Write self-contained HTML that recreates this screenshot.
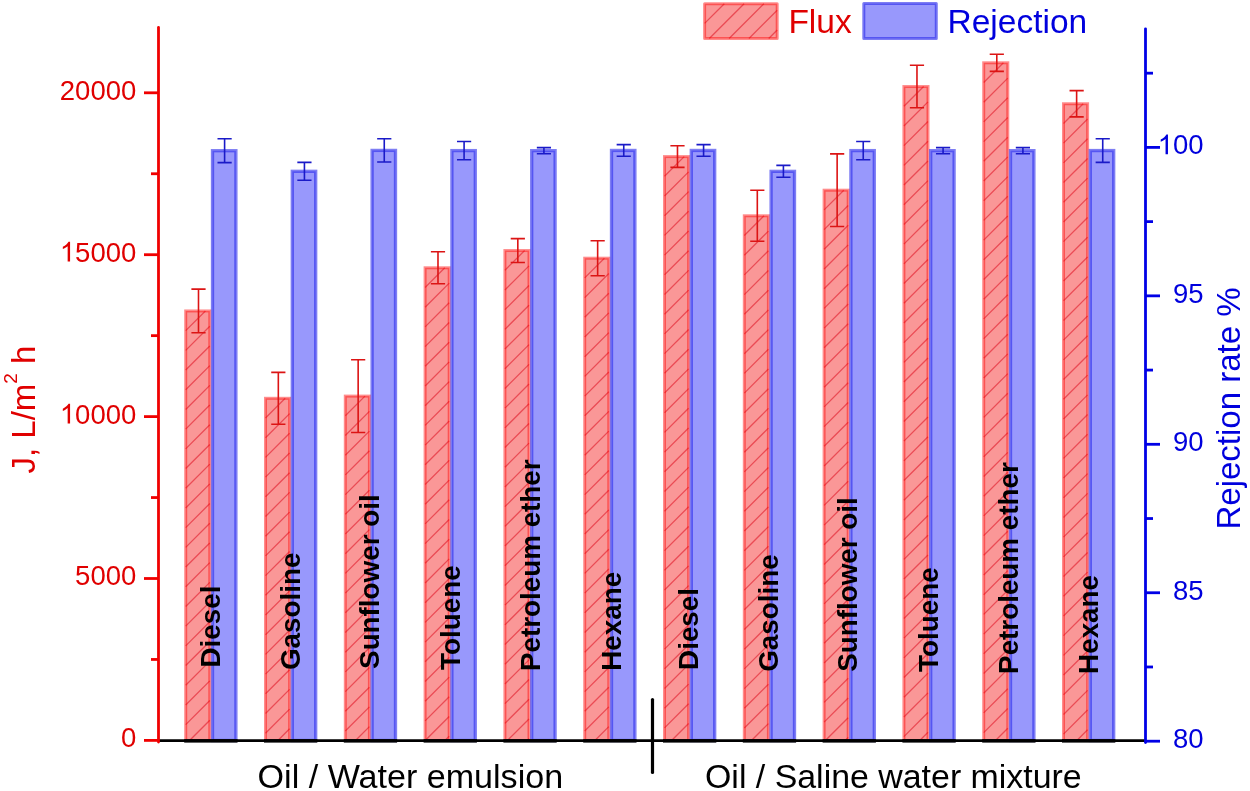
<!DOCTYPE html><html><head><meta charset="utf-8"><style>html,body{margin:0;padding:0;background:#fff;}svg{display:block;will-change:transform;}text{font-family:"Liberation Sans",sans-serif;}</style></head><body>
<svg width="1250" height="791" viewBox="0 0 1250 791">
<rect width="1250" height="791" fill="#fff"/>
<defs>
</defs>
<rect x="185.70" y="310.95" width="24.1" height="429.55" fill="#FA9797"/>
<path d="M185.7 330.65L205.4 310.95M185.7 350.35L209.8 326.25M185.7 370.05L209.8 345.95M185.7 389.75L209.8 365.65M185.7 409.45L209.8 385.35M185.7 429.15L209.8 405.05M185.7 448.85L209.8 424.75M185.7 468.55L209.8 444.45M185.7 488.25L209.8 464.15M185.7 507.95L209.8 483.85M185.7 527.65L209.8 503.55M185.7 547.35L209.8 523.25M185.7 567.05L209.8 542.95M185.7 586.75L209.8 562.65M185.7 606.45L209.8 582.35M185.7 626.15L209.8 602.05M185.7 645.85L209.8 621.75M185.7 665.55L209.8 641.45M185.7 685.25L209.8 661.15M185.7 704.95L209.8 680.85M185.7 724.65L209.8 700.55M189.55 740.5L209.8 720.25M209.25 740.5L209.8 739.95" stroke="rgba(220,0,20,0.5)" stroke-width="1.3" fill="none"/>
<rect x="185.70" y="310.95" width="24.1" height="429.55" fill="none" stroke="rgba(255,0,0,0.45)" stroke-width="3"/>
<rect x="212.50" y="150.70" width="23.4" height="589.80" fill="#9898FC" stroke="rgba(40,40,235,0.6)" stroke-width="3.3"/>
<rect x="265.50" y="398.30" width="24.1" height="342.20" fill="#FA9797"/>
<path d="M265.5 418.0L285.2 398.3M265.5 437.7L289.6 413.6M265.5 457.4L289.6 433.3M265.5 477.1L289.6 453.0M265.5 496.8L289.6 472.7M265.5 516.5L289.6 492.4M265.5 536.2L289.6 512.1M265.5 555.9L289.6 531.8M265.5 575.6L289.6 551.5M265.5 595.3L289.6 571.2M265.5 615.0L289.6 590.9M265.5 634.7L289.6 610.6M265.5 654.4L289.6 630.3M265.5 674.1L289.6 650.0M265.5 693.8L289.6 669.7M265.5 713.5L289.6 689.4M265.5 733.2L289.6 709.1M277.9 740.5L289.6 728.8" stroke="rgba(220,0,20,0.5)" stroke-width="1.3" fill="none"/>
<rect x="265.50" y="398.30" width="24.1" height="342.20" fill="none" stroke="rgba(255,0,0,0.45)" stroke-width="3"/>
<rect x="292.30" y="171.30" width="23.4" height="569.20" fill="#9898FC" stroke="rgba(40,40,235,0.6)" stroke-width="3.3"/>
<rect x="345.30" y="396.10" width="24.1" height="344.40" fill="#FA9797"/>
<path d="M345.3 415.8L365.0 396.1M345.3 435.5L369.4 411.4M345.3 455.2L369.4 431.1M345.3 474.9L369.4 450.8M345.3 494.6L369.4 470.5M345.3 514.3L369.4 490.2M345.3 534.0L369.4 509.9M345.3 553.7L369.4 529.6M345.3 573.4L369.4 549.3M345.3 593.1L369.4 569.0M345.3 612.8L369.4 588.7M345.3 632.5L369.4 608.4M345.3 652.2L369.4 628.1M345.3 671.9L369.4 647.8M345.3 691.6L369.4 667.5M345.3 711.3L369.4 687.2M345.3 731.0L369.4 706.9M355.5 740.5L369.4 726.6" stroke="rgba(220,0,20,0.5)" stroke-width="1.3" fill="none"/>
<rect x="345.30" y="396.10" width="24.1" height="344.40" fill="none" stroke="rgba(255,0,0,0.45)" stroke-width="3"/>
<rect x="372.10" y="150.40" width="23.4" height="590.10" fill="#9898FC" stroke="rgba(40,40,235,0.6)" stroke-width="3.3"/>
<rect x="425.10" y="267.80" width="24.1" height="472.70" fill="#FA9797"/>
<path d="M425.1 287.5L444.8 267.8M425.1 307.2L449.2 283.1M425.1 326.9L449.2 302.8M425.1 346.6L449.2 322.5M425.1 366.3L449.2 342.2M425.1 386.0L449.2 361.9M425.1 405.7L449.2 381.6M425.1 425.4L449.2 401.3M425.1 445.1L449.2 421.0M425.1 464.8L449.2 440.7M425.1 484.5L449.2 460.4M425.1 504.2L449.2 480.1M425.1 523.9L449.2 499.8M425.1 543.6L449.2 519.5M425.1 563.3L449.2 539.2M425.1 583.0L449.2 558.9M425.1 602.7L449.2 578.6M425.1 622.4L449.2 598.3M425.1 642.1L449.2 618.0M425.1 661.8L449.2 637.7M425.1 681.5L449.2 657.4M425.1 701.2L449.2 677.1M425.1 720.9L449.2 696.8M425.2 740.5L449.2 716.5M444.9 740.5L449.2 736.2" stroke="rgba(220,0,20,0.5)" stroke-width="1.3" fill="none"/>
<rect x="425.10" y="267.80" width="24.1" height="472.70" fill="none" stroke="rgba(255,0,0,0.45)" stroke-width="3"/>
<rect x="451.90" y="150.60" width="23.4" height="589.90" fill="#9898FC" stroke="rgba(40,40,235,0.6)" stroke-width="3.3"/>
<rect x="504.90" y="250.55" width="24.1" height="489.95" fill="#FA9797"/>
<path d="M504.9 270.25L524.6 250.55M504.9 289.95L529.0 265.85M504.9 309.65L529.0 285.55M504.9 329.35L529.0 305.25M504.9 349.05L529.0 324.95M504.9 368.75L529.0 344.65M504.9 388.45L529.0 364.35M504.9 408.15L529.0 384.05M504.9 427.85L529.0 403.75M504.9 447.55L529.0 423.45M504.9 467.25L529.0 443.15M504.9 486.95L529.0 462.85M504.9 506.65L529.0 482.55M504.9 526.35L529.0 502.25M504.9 546.05L529.0 521.95M504.9 565.75L529.0 541.65M504.9 585.45L529.0 561.35M504.9 605.15L529.0 581.05M504.9 624.85L529.0 600.75M504.9 644.55L529.0 620.45M504.9 664.25L529.0 640.15M504.9 683.95L529.0 659.85M504.9 703.65L529.0 679.55M504.9 723.35L529.0 699.25M507.45 740.5L529.0 718.95M527.15 740.5L529.0 738.65" stroke="rgba(220,0,20,0.5)" stroke-width="1.3" fill="none"/>
<rect x="504.90" y="250.55" width="24.1" height="489.95" fill="none" stroke="rgba(255,0,0,0.45)" stroke-width="3"/>
<rect x="531.70" y="150.65" width="23.4" height="589.85" fill="#9898FC" stroke="rgba(40,40,235,0.6)" stroke-width="3.3"/>
<rect x="584.70" y="258.20" width="24.1" height="482.30" fill="#FA9797"/>
<path d="M584.7 277.9L604.4 258.2M584.7 297.6L608.8 273.5M584.7 317.3L608.8 293.2M584.7 337.0L608.8 312.9M584.7 356.7L608.8 332.6M584.7 376.4L608.8 352.3M584.7 396.1L608.8 372.0M584.7 415.8L608.8 391.7M584.7 435.5L608.8 411.4M584.7 455.2L608.8 431.1M584.7 474.9L608.8 450.8M584.7 494.6L608.8 470.5M584.7 514.3L608.8 490.2M584.7 534.0L608.8 509.9M584.7 553.7L608.8 529.6M584.7 573.4L608.8 549.3M584.7 593.1L608.8 569.0M584.7 612.8L608.8 588.7M584.7 632.5L608.8 608.4M584.7 652.2L608.8 628.1M584.7 671.9L608.8 647.8M584.7 691.6L608.8 667.5M584.7 711.3L608.8 687.2M584.7 731.0L608.8 706.9M594.9 740.5L608.8 726.6" stroke="rgba(220,0,20,0.5)" stroke-width="1.3" fill="none"/>
<rect x="584.70" y="258.20" width="24.1" height="482.30" fill="none" stroke="rgba(255,0,0,0.45)" stroke-width="3"/>
<rect x="611.50" y="150.45" width="23.4" height="590.05" fill="#9898FC" stroke="rgba(40,40,235,0.6)" stroke-width="3.3"/>
<rect x="664.50" y="156.60" width="24.1" height="583.90" fill="#FA9797"/>
<path d="M664.5 176.3L684.2 156.6M664.5 196.0L688.6 171.9M664.5 215.7L688.6 191.6M664.5 235.4L688.6 211.3M664.5 255.1L688.6 231.0M664.5 274.8L688.6 250.7M664.5 294.5L688.6 270.4M664.5 314.2L688.6 290.1M664.5 333.9L688.6 309.8M664.5 353.6L688.6 329.5M664.5 373.3L688.6 349.2M664.5 393.0L688.6 368.9M664.5 412.7L688.6 388.6M664.5 432.4L688.6 408.3M664.5 452.1L688.6 428.0M664.5 471.8L688.6 447.7M664.5 491.5L688.6 467.4M664.5 511.2L688.6 487.1M664.5 530.9L688.6 506.8M664.5 550.6L688.6 526.5M664.5 570.3L688.6 546.2M664.5 590.0L688.6 565.9M664.5 609.7L688.6 585.6M664.5 629.4L688.6 605.3M664.5 649.1L688.6 625.0M664.5 668.8L688.6 644.7M664.5 688.5L688.6 664.4M664.5 708.2L688.6 684.1M664.5 727.9L688.6 703.8M671.6 740.5L688.6 723.5" stroke="rgba(220,0,20,0.5)" stroke-width="1.3" fill="none"/>
<rect x="664.50" y="156.60" width="24.1" height="583.90" fill="none" stroke="rgba(255,0,0,0.45)" stroke-width="3"/>
<rect x="691.30" y="150.45" width="23.4" height="590.05" fill="#9898FC" stroke="rgba(40,40,235,0.6)" stroke-width="3.3"/>
<rect x="744.30" y="215.80" width="24.1" height="524.70" fill="#FA9797"/>
<path d="M744.3 235.5L764.0 215.8M744.3 255.2L768.4 231.1M744.3 274.9L768.4 250.8M744.3 294.6L768.4 270.5M744.3 314.3L768.4 290.2M744.3 334.0L768.4 309.9M744.3 353.7L768.4 329.6M744.3 373.4L768.4 349.3M744.3 393.1L768.4 369.0M744.3 412.8L768.4 388.7M744.3 432.5L768.4 408.4M744.3 452.2L768.4 428.1M744.3 471.9L768.4 447.8M744.3 491.6L768.4 467.5M744.3 511.3L768.4 487.2M744.3 531.0L768.4 506.9M744.3 550.7L768.4 526.6M744.3 570.4L768.4 546.3M744.3 590.1L768.4 566.0M744.3 609.8L768.4 585.7M744.3 629.5L768.4 605.4M744.3 649.2L768.4 625.1M744.3 668.9L768.4 644.8M744.3 688.6L768.4 664.5M744.3 708.3L768.4 684.2M744.3 728.0L768.4 703.9M751.5 740.5L768.4 723.6" stroke="rgba(220,0,20,0.5)" stroke-width="1.3" fill="none"/>
<rect x="744.30" y="215.80" width="24.1" height="524.70" fill="none" stroke="rgba(255,0,0,0.45)" stroke-width="3"/>
<rect x="771.10" y="171.35" width="23.4" height="569.15" fill="#9898FC" stroke="rgba(40,40,235,0.6)" stroke-width="3.3"/>
<rect x="824.10" y="190.20" width="24.1" height="550.30" fill="#FA9797"/>
<path d="M824.1 209.9L843.8 190.2M824.1 229.6L848.2 205.5M824.1 249.3L848.2 225.2M824.1 269.0L848.2 244.9M824.1 288.7L848.2 264.6M824.1 308.4L848.2 284.3M824.1 328.1L848.2 304.0M824.1 347.8L848.2 323.7M824.1 367.5L848.2 343.4M824.1 387.2L848.2 363.1M824.1 406.9L848.2 382.8M824.1 426.6L848.2 402.5M824.1 446.3L848.2 422.2M824.1 466.0L848.2 441.9M824.1 485.7L848.2 461.6M824.1 505.4L848.2 481.3M824.1 525.1L848.2 501.0M824.1 544.8L848.2 520.7M824.1 564.5L848.2 540.4M824.1 584.2L848.2 560.1M824.1 603.9L848.2 579.8M824.1 623.6L848.2 599.5M824.1 643.3L848.2 619.2M824.1 663.0L848.2 638.9M824.1 682.7L848.2 658.6M824.1 702.4L848.2 678.3M824.1 722.1L848.2 698.0M825.4 740.5L848.2 717.7M845.1 740.5L848.2 737.4" stroke="rgba(220,0,20,0.5)" stroke-width="1.3" fill="none"/>
<rect x="824.10" y="190.20" width="24.1" height="550.30" fill="none" stroke="rgba(255,0,0,0.45)" stroke-width="3"/>
<rect x="850.90" y="150.60" width="23.4" height="589.90" fill="#9898FC" stroke="rgba(40,40,235,0.6)" stroke-width="3.3"/>
<rect x="903.90" y="86.55" width="24.1" height="653.95" fill="#FA9797"/>
<path d="M903.9 106.25L923.6 86.55M903.9 125.95L928.0 101.85M903.9 145.65L928.0 121.55M903.9 165.35L928.0 141.25M903.9 185.05L928.0 160.95M903.9 204.75L928.0 180.65M903.9 224.45L928.0 200.35M903.9 244.15L928.0 220.05M903.9 263.85L928.0 239.75M903.9 283.55L928.0 259.45M903.9 303.25L928.0 279.15M903.9 322.95L928.0 298.85M903.9 342.65L928.0 318.55M903.9 362.35L928.0 338.25M903.9 382.05L928.0 357.95M903.9 401.75L928.0 377.65M903.9 421.45L928.0 397.35M903.9 441.15L928.0 417.05M903.9 460.85L928.0 436.75M903.9 480.55L928.0 456.45M903.9 500.25L928.0 476.15M903.9 519.95L928.0 495.85M903.9 539.65L928.0 515.55M903.9 559.35L928.0 535.25M903.9 579.05L928.0 554.95M903.9 598.75L928.0 574.65M903.9 618.45L928.0 594.35M903.9 638.15L928.0 614.05M903.9 657.85L928.0 633.75M903.9 677.55L928.0 653.45M903.9 697.25L928.0 673.15M903.9 716.95L928.0 692.85M903.9 736.65L928.0 712.55M919.75 740.5L928.0 732.25" stroke="rgba(220,0,20,0.5)" stroke-width="1.3" fill="none"/>
<rect x="903.90" y="86.55" width="24.1" height="653.95" fill="none" stroke="rgba(255,0,0,0.45)" stroke-width="3"/>
<rect x="930.70" y="150.65" width="23.4" height="589.85" fill="#9898FC" stroke="rgba(40,40,235,0.6)" stroke-width="3.3"/>
<rect x="983.70" y="62.80" width="24.1" height="677.70" fill="#FA9797"/>
<path d="M983.7 82.5L1003.4 62.8M983.7 102.2L1007.8 78.1M983.7 121.9L1007.8 97.8M983.7 141.6L1007.8 117.5M983.7 161.3L1007.8 137.2M983.7 181.0L1007.8 156.9M983.7 200.7L1007.8 176.6M983.7 220.4L1007.8 196.3M983.7 240.1L1007.8 216.0M983.7 259.8L1007.8 235.7M983.7 279.5L1007.8 255.4M983.7 299.2L1007.8 275.1M983.7 318.9L1007.8 294.8M983.7 338.6L1007.8 314.5M983.7 358.3L1007.8 334.2M983.7 378.0L1007.8 353.9M983.7 397.7L1007.8 373.6M983.7 417.4L1007.8 393.3M983.7 437.1L1007.8 413.0M983.7 456.8L1007.8 432.7M983.7 476.5L1007.8 452.4M983.7 496.2L1007.8 472.1M983.7 515.9L1007.8 491.8M983.7 535.6L1007.8 511.5M983.7 555.3L1007.8 531.2M983.7 575.0L1007.8 550.9M983.7 594.7L1007.8 570.6M983.7 614.4L1007.8 590.3M983.7 634.1L1007.8 610.0M983.7 653.8L1007.8 629.7M983.7 673.5L1007.8 649.4M983.7 693.2L1007.8 669.1M983.7 712.9L1007.8 688.8M983.7 732.6L1007.8 708.5M995.5 740.5L1007.8 728.2" stroke="rgba(220,0,20,0.5)" stroke-width="1.3" fill="none"/>
<rect x="983.70" y="62.80" width="24.1" height="677.70" fill="none" stroke="rgba(255,0,0,0.45)" stroke-width="3"/>
<rect x="1010.50" y="150.65" width="23.4" height="589.85" fill="#9898FC" stroke="rgba(40,40,235,0.6)" stroke-width="3.3"/>
<rect x="1063.50" y="103.75" width="24.1" height="636.75" fill="#FA9797"/>
<path d="M1063.5 123.45L1083.2 103.75M1063.5 143.15L1087.6 119.05M1063.5 162.85L1087.6 138.75M1063.5 182.55L1087.6 158.45M1063.5 202.25L1087.6 178.15M1063.5 221.95L1087.6 197.85M1063.5 241.65L1087.6 217.55M1063.5 261.35L1087.6 237.25M1063.5 281.05L1087.6 256.95M1063.5 300.75L1087.6 276.65M1063.5 320.45L1087.6 296.35M1063.5 340.15L1087.6 316.05M1063.5 359.85L1087.6 335.75M1063.5 379.55L1087.6 355.45M1063.5 399.25L1087.6 375.15M1063.5 418.95L1087.6 394.85M1063.5 438.65L1087.6 414.55M1063.5 458.35L1087.6 434.25M1063.5 478.05L1087.6 453.95M1063.5 497.75L1087.6 473.65M1063.5 517.45L1087.6 493.35M1063.5 537.15L1087.6 513.05M1063.5 556.85L1087.6 532.75M1063.5 576.55L1087.6 552.45M1063.5 596.25L1087.6 572.15M1063.5 615.95L1087.6 591.85M1063.5 635.65L1087.6 611.55M1063.5 655.35L1087.6 631.25M1063.5 675.05L1087.6 650.95M1063.5 694.75L1087.6 670.65M1063.5 714.45L1087.6 690.35M1063.5 734.15L1087.6 710.05M1076.85 740.5L1087.6 729.75" stroke="rgba(220,0,20,0.5)" stroke-width="1.3" fill="none"/>
<rect x="1063.50" y="103.75" width="24.1" height="636.75" fill="none" stroke="rgba(255,0,0,0.45)" stroke-width="3"/>
<rect x="1090.30" y="150.55" width="23.4" height="589.95" fill="#9898FC" stroke="rgba(40,40,235,0.6)" stroke-width="3.3"/>
<path d="M198.50 289.1V332.8M191.40 289.1H205.60M191.40 332.8H205.60" stroke="#DC1414" stroke-width="1.6" fill="none"/>
<path d="M224.60 138.8V162.6M217.50 138.8H231.70M217.50 162.6H231.70" stroke="#1A1AC8" stroke-width="1.6" fill="none"/>
<path d="M278.33 372.4V424.2M271.23 372.4H285.43M271.23 424.2H285.43" stroke="#DC1414" stroke-width="1.6" fill="none"/>
<path d="M304.43 162.4V180.2M297.33 162.4H311.53M297.33 180.2H311.53" stroke="#1A1AC8" stroke-width="1.6" fill="none"/>
<path d="M358.16 359.7V432.5M351.06 359.7H365.26M351.06 432.5H365.26" stroke="#DC1414" stroke-width="1.6" fill="none"/>
<path d="M384.26 138.8V162.0M377.16 138.8H391.36M377.16 162.0H391.36" stroke="#1A1AC8" stroke-width="1.6" fill="none"/>
<path d="M437.99 251.8V283.8M430.89 251.8H445.09M430.89 283.8H445.09" stroke="#DC1414" stroke-width="1.6" fill="none"/>
<path d="M464.09 141.5V159.7M456.99 141.5H471.19M456.99 159.7H471.19" stroke="#1A1AC8" stroke-width="1.6" fill="none"/>
<path d="M517.82 238.6V262.5M510.72 238.6H524.92M510.72 262.5H524.92" stroke="#DC1414" stroke-width="1.6" fill="none"/>
<path d="M543.92 147.6V153.7M536.82 147.6H551.02M536.82 153.7H551.02" stroke="#1A1AC8" stroke-width="1.6" fill="none"/>
<path d="M597.65 240.7V275.7M590.55 240.7H604.75M590.55 275.7H604.75" stroke="#DC1414" stroke-width="1.6" fill="none"/>
<path d="M623.75 144.6V156.3M616.65 144.6H630.85M616.65 156.3H630.85" stroke="#1A1AC8" stroke-width="1.6" fill="none"/>
<path d="M677.48 145.8V167.4M670.38 145.8H684.58M670.38 167.4H684.58" stroke="#DC1414" stroke-width="1.6" fill="none"/>
<path d="M703.58 144.6V156.3M696.48 144.6H710.68M696.48 156.3H710.68" stroke="#1A1AC8" stroke-width="1.6" fill="none"/>
<path d="M757.31 190.3V241.3M750.21 190.3H764.41M750.21 241.3H764.41" stroke="#DC1414" stroke-width="1.6" fill="none"/>
<path d="M783.41 165.4V177.3M776.31 165.4H790.51M776.31 177.3H790.51" stroke="#1A1AC8" stroke-width="1.6" fill="none"/>
<path d="M837.14 153.9V226.5M830.04 153.9H844.24M830.04 226.5H844.24" stroke="#DC1414" stroke-width="1.6" fill="none"/>
<path d="M863.24 141.5V159.7M856.14 141.5H870.34M856.14 159.7H870.34" stroke="#1A1AC8" stroke-width="1.6" fill="none"/>
<path d="M916.97 65.3V107.8M909.87 65.3H924.07M909.87 107.8H924.07" stroke="#DC1414" stroke-width="1.6" fill="none"/>
<path d="M943.07 147.6V153.7M935.97 147.6H950.17M935.97 153.7H950.17" stroke="#1A1AC8" stroke-width="1.6" fill="none"/>
<path d="M996.80 54.2V71.4M989.70 54.2H1003.90M989.70 71.4H1003.90" stroke="#DC1414" stroke-width="1.6" fill="none"/>
<path d="M1022.90 147.6V153.7M1015.80 147.6H1030.00M1015.80 153.7H1030.00" stroke="#1A1AC8" stroke-width="1.6" fill="none"/>
<path d="M1076.63 90.6V116.9M1069.53 90.6H1083.73M1069.53 116.9H1083.73" stroke="#DC1414" stroke-width="1.6" fill="none"/>
<path d="M1102.73 138.7V162.4M1095.63 138.7H1109.83M1095.63 162.4H1109.83" stroke="#1A1AC8" stroke-width="1.6" fill="none"/>
<text transform="translate(220.00,667.5) rotate(-90)" font-size="27.8" font-weight="bold" fill="#000">Diesel</text>
<text transform="translate(299.80,670.0) rotate(-90)" font-size="27.8" font-weight="bold" fill="#000">Gasoline</text>
<text transform="translate(378.90,668.9) rotate(-90)" font-size="27.8" font-weight="bold" fill="#000">Sunflower oil</text>
<text transform="translate(460.40,669.9) rotate(-90)" font-size="27.8" font-weight="bold" fill="#000">Toluene</text>
<text transform="translate(539.60,671.0) rotate(-90)" font-size="27.8" font-weight="bold" fill="#000">Petroleum ether</text>
<text transform="translate(620.60,670.7) rotate(-90)" font-size="27.8" font-weight="bold" fill="#000">Hexane</text>
<text transform="translate(698.30,669.9) rotate(-90)" font-size="27.8" font-weight="bold" fill="#000">Diesel</text>
<text transform="translate(777.60,671.8) rotate(-90)" font-size="27.8" font-weight="bold" fill="#000">Gasoline</text>
<text transform="translate(856.60,671.8) rotate(-90)" font-size="27.8" font-weight="bold" fill="#000">Sunflower oil</text>
<text transform="translate(938.00,671.9) rotate(-90)" font-size="27.8" font-weight="bold" fill="#000">Toluene</text>
<text transform="translate(1017.90,673.9) rotate(-90)" font-size="27.8" font-weight="bold" fill="#000">Petroleum ether</text>
<text transform="translate(1098.30,673.9) rotate(-90)" font-size="27.8" font-weight="bold" fill="#000">Hexane</text>
<path d="M158.5 740.7H1145.5" stroke="#000" stroke-width="2.7"/>
<rect x="184.20" y="739.2" width="53.30" height="3.4" fill="#000"/>
<rect x="264.00" y="739.2" width="53.30" height="3.4" fill="#000"/>
<rect x="343.80" y="739.2" width="53.30" height="3.4" fill="#000"/>
<rect x="423.60" y="739.2" width="53.30" height="3.4" fill="#000"/>
<rect x="503.40" y="739.2" width="53.30" height="3.4" fill="#000"/>
<rect x="583.20" y="739.2" width="53.30" height="3.4" fill="#000"/>
<rect x="663.00" y="739.2" width="53.30" height="3.4" fill="#000"/>
<rect x="742.80" y="739.2" width="53.30" height="3.4" fill="#000"/>
<rect x="822.60" y="739.2" width="53.30" height="3.4" fill="#000"/>
<rect x="902.40" y="739.2" width="53.30" height="3.4" fill="#000"/>
<rect x="982.20" y="739.2" width="53.30" height="3.4" fill="#000"/>
<rect x="1062.00" y="739.2" width="53.30" height="3.4" fill="#000"/>
<path d="M652.5 699.5V772.5" stroke="#000" stroke-width="3.2" stroke-linecap="round"/>
<path d="M158.5 27.5V742" stroke="#F00000" stroke-width="2.8" fill="none" stroke-linecap="round"/>
<path d="M144 740.40H158.5" stroke="#F00000" stroke-width="2.8"/>
<text transform="translate(121.01,747.30) scale(1,1.03)" font-size="27.5" fill="#E00000">0</text>
<path d="M151 659.45H158.5" stroke="#F00000" stroke-width="2.8"/>
<path d="M144 578.50H158.5" stroke="#F00000" stroke-width="2.8"/>
<text transform="translate(75.12,585.40) scale(1,1.03)" font-size="27.5" fill="#E00000">5</text><text transform="translate(90.42,585.40) scale(1,1.03)" font-size="27.5" fill="#E00000">0</text><text transform="translate(105.71,585.40) scale(1,1.03)" font-size="27.5" fill="#E00000">0</text><text transform="translate(121.01,585.40) scale(1,1.03)" font-size="27.5" fill="#E00000">0</text>
<path d="M151 497.55H158.5" stroke="#F00000" stroke-width="2.8"/>
<path d="M144 416.60H158.5" stroke="#F00000" stroke-width="2.8"/>
<path transform="translate(59.83,423.50) scale(0.01343,-0.01343)" d="M763 0L583 0L583 1147Q518 1085 412.5 1023Q307 961 223 930L223 1104Q374 1175 487 1276Q600 1377 647 1472L763 1472Z" fill="#E00000"/><text transform="translate(75.12,423.50) scale(1,1.03)" font-size="27.5" fill="#E00000">0</text><text transform="translate(90.42,423.50) scale(1,1.03)" font-size="27.5" fill="#E00000">0</text><text transform="translate(105.71,423.50) scale(1,1.03)" font-size="27.5" fill="#E00000">0</text><text transform="translate(121.01,423.50) scale(1,1.03)" font-size="27.5" fill="#E00000">0</text>
<path d="M151 335.65H158.5" stroke="#F00000" stroke-width="2.8"/>
<path d="M144 254.70H158.5" stroke="#F00000" stroke-width="2.8"/>
<path transform="translate(59.83,261.60) scale(0.01343,-0.01343)" d="M763 0L583 0L583 1147Q518 1085 412.5 1023Q307 961 223 930L223 1104Q374 1175 487 1276Q600 1377 647 1472L763 1472Z" fill="#E00000"/><text transform="translate(75.12,261.60) scale(1,1.03)" font-size="27.5" fill="#E00000">5</text><text transform="translate(90.42,261.60) scale(1,1.03)" font-size="27.5" fill="#E00000">0</text><text transform="translate(105.71,261.60) scale(1,1.03)" font-size="27.5" fill="#E00000">0</text><text transform="translate(121.01,261.60) scale(1,1.03)" font-size="27.5" fill="#E00000">0</text>
<path d="M151 173.75H158.5" stroke="#F00000" stroke-width="2.8"/>
<path d="M144 92.80H158.5" stroke="#F00000" stroke-width="2.8"/>
<text transform="translate(59.83,99.70) scale(1,1.03)" font-size="27.5" fill="#E00000">2</text><text transform="translate(75.12,99.70) scale(1,1.03)" font-size="27.5" fill="#E00000">0</text><text transform="translate(90.42,99.70) scale(1,1.03)" font-size="27.5" fill="#E00000">0</text><text transform="translate(105.71,99.70) scale(1,1.03)" font-size="27.5" fill="#E00000">0</text><text transform="translate(121.01,99.70) scale(1,1.03)" font-size="27.5" fill="#E00000">0</text>
<path d="M1145.5 28.8V742.5" stroke="#0000E6" stroke-width="2.8" fill="none" stroke-linecap="round"/>
<path d="M1145.5 741.20H1160" stroke="#0000E6" stroke-width="2.8"/>
<text transform="translate(1173.01,748.10) scale(1,1.03)" font-size="27.5" fill="#0000DD">8</text><text transform="translate(1188.31,748.10) scale(1,1.03)" font-size="27.5" fill="#0000DD">0</text>
<path d="M1145.5 666.98H1153" stroke="#0000E6" stroke-width="2.8"/>
<path d="M1145.5 592.75H1160" stroke="#0000E6" stroke-width="2.8"/>
<text transform="translate(1173.01,599.65) scale(1,1.03)" font-size="27.5" fill="#0000DD">8</text><text transform="translate(1188.31,599.65) scale(1,1.03)" font-size="27.5" fill="#0000DD">5</text>
<path d="M1145.5 518.53H1153" stroke="#0000E6" stroke-width="2.8"/>
<path d="M1145.5 444.30H1160" stroke="#0000E6" stroke-width="2.8"/>
<text transform="translate(1173.01,451.20) scale(1,1.03)" font-size="27.5" fill="#0000DD">9</text><text transform="translate(1188.31,451.20) scale(1,1.03)" font-size="27.5" fill="#0000DD">0</text>
<path d="M1145.5 370.08H1153" stroke="#0000E6" stroke-width="2.8"/>
<path d="M1145.5 295.85H1160" stroke="#0000E6" stroke-width="2.8"/>
<text transform="translate(1173.01,302.75) scale(1,1.03)" font-size="27.5" fill="#0000DD">9</text><text transform="translate(1188.31,302.75) scale(1,1.03)" font-size="27.5" fill="#0000DD">5</text>
<path d="M1145.5 221.63H1153" stroke="#0000E6" stroke-width="2.8"/>
<path d="M1145.5 147.40H1160" stroke="#0000E6" stroke-width="2.8"/>
<path transform="translate(1157.72,154.30) scale(0.01343,-0.01343)" d="M763 0L583 0L583 1147Q518 1085 412.5 1023Q307 961 223 930L223 1104Q374 1175 487 1276Q600 1377 647 1472L763 1472Z" fill="#0000DD"/><text transform="translate(1173.01,154.30) scale(1,1.03)" font-size="27.5" fill="#0000DD">0</text><text transform="translate(1188.31,154.30) scale(1,1.03)" font-size="27.5" fill="#0000DD">0</text>
<path d="M1145.5 73.18H1153" stroke="#0000E6" stroke-width="2.8"/>
<text transform="translate(34.9,473.5) rotate(-90)" font-size="33" fill="#E00000">J, L/m<tspan font-size="19" dy="-18.2">2</tspan><tspan dy="18.2"> h</tspan></text>
<text transform="translate(1240.4,529.5) rotate(-90)" font-size="33" fill="#0000DD">Rejection rate %</text>
<text x="257.6" y="788.2" font-size="34.1" fill="#000">Oil / Water emulsion</text>
<text x="705" y="788.2" font-size="33.9" fill="#000">Oil / Saline water mixture</text>
<rect x="704.6" y="3.7" width="72.6" height="34.8" fill="#FA9797"/>
<path d="M704.6 23.4L724.3 3.7M709.3 38.5L744.1 3.7M729.1 38.5L763.9 3.7M748.9 38.5L777.2 10.2M768.7 38.5L777.2 30.0" stroke="rgba(220,0,20,0.5)" stroke-width="1.3" fill="none"/>
<rect x="704.6" y="3.7" width="72.6" height="34.8" fill="none" stroke="rgba(255,0,0,0.45)" stroke-width="3" stroke-linejoin="round"/>
<text x="788.4" y="32.5" font-size="33.5" fill="#E00000">Flux</text>
<rect x="863.8" y="3.5" width="72.5" height="35" fill="#9898FC" stroke="rgba(40,40,235,0.6)" stroke-width="3" stroke-linejoin="round"/>
<text x="947.5" y="32.6" font-size="33.5" fill="#0000DD">Rejection</text>
</svg></body></html>
